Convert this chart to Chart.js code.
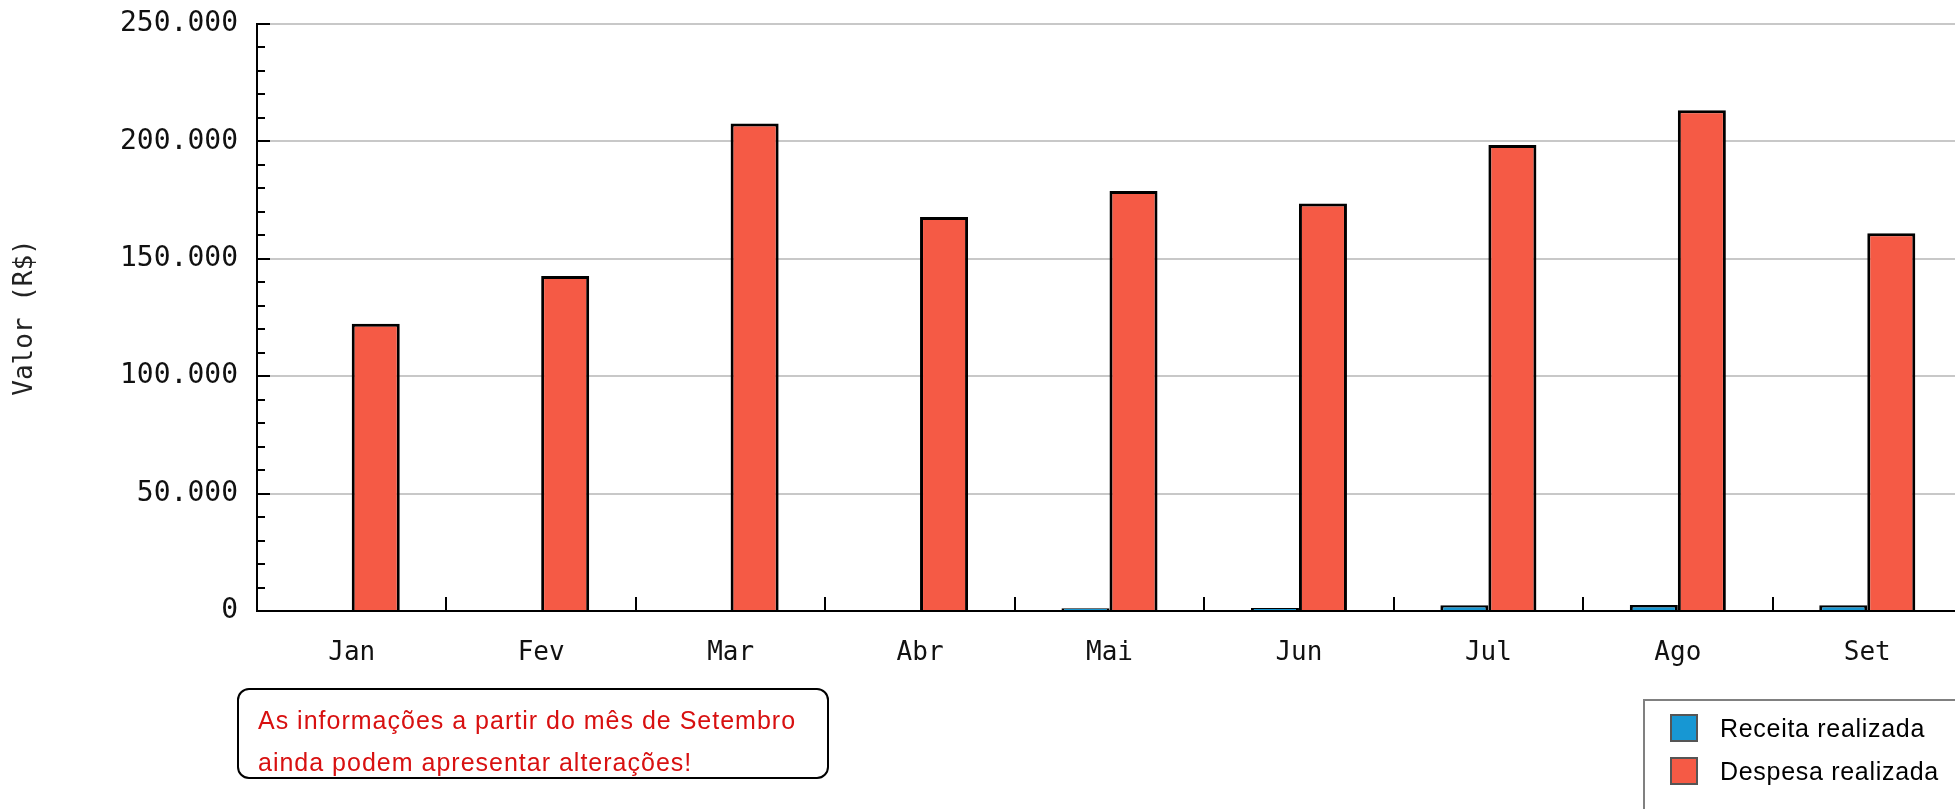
<!DOCTYPE html>
<html>
<head>
<meta charset="utf-8">
<script src="https://cdn.jsdelivr.net/npm/chart.js@4.4.0/dist/chart.umd.min.js"></script>
<style>
  html, body { margin: 0; padding: 0; background: #fff; overflow: hidden; }
  #wrap { position: relative; width: 1962px; height: 809px; }
  #nota {
    position: absolute; left: 237px; top: 688px; width: 592px; height: 91px;
    box-sizing: border-box; border: 2px solid #000; border-radius: 12px;
    padding: 9px 0 0 19px;
    font-family: "Liberation Sans", Arial, sans-serif; font-size: 25px;
    line-height: 42px; letter-spacing: 1px; color: #d81010; white-space: nowrap;
  }
  #legenda {
    position: absolute; left: 1643px; top: 699px; width: 340px; height: 150px;
    box-sizing: border-box; border: 2px solid #808080; padding: 13px 0 0 25px;
    font-family: "Liberation Sans", Arial, sans-serif; font-size: 25px;
    letter-spacing: 0.7px; color: #000;
  }
  #legenda .item { display: flex; align-items: center; height: 28px; margin-bottom: 15px; white-space: nowrap; }
  #legenda .cor { width: 28px; height: 28px; box-sizing: border-box; border: 2px solid #555; margin-right: 22px; }
</style>
</head>
<body>
<div id="wrap">
  <canvas id="grafico"></canvas>
  <div id="nota">As informações a partir do mês de Setembro<br>ainda podem apresentar alterações!</div>
  <div id="legenda"></div>
</div>
<script>
const meses = ["Jan", "Fev", "Mar", "Abr", "Mai", "Jun", "Jul", "Ago", "Set"];
const receitaRealizada = [0, 0, 0, 0, 1200, 1300, 2500, 2600, 2500];
const despesaRealizada = [122300, 142700, 207600, 167800, 178900, 173600, 198500, 213300, 160900];
const yTickLabels = ["0", "50.000", "100.000", "150.000", "200.000", "250.000"];

const fonteMono = { family: "'DejaVu Sans Mono', monospace", size: 26 };

// tick marks pointing into the plot, like the original
const marcasInternas = {
  id: "marcasInternas",
  afterDatasetsDraw(chart) {
    const { ctx, chartArea, scales: { x, y } } = chart;
    ctx.save();
    ctx.strokeStyle = "#000";
    ctx.lineWidth = 2;
    ctx.beginPath();
    y.ticks.forEach((t) => {
      const py = Math.round(y.getPixelForValue(t.value));
      const len = t.value % 50000 === 0 ? 13 : 8;
      ctx.moveTo(chartArea.left, py);
      ctx.lineTo(chartArea.left + len, py);
    });
    const half = (x.getPixelForValue(1) - x.getPixelForValue(0)) / 2;
    for (let i = 0; i < meses.length; i++) {
      const px = Math.round(x.getPixelForValue(i) + half);
      ctx.moveTo(px, chartArea.bottom);
      ctx.lineTo(px, chartArea.bottom - 14);
    }
    ctx.stroke();
    ctx.restore();
  },
};

const grafico = new Chart(document.getElementById("grafico"), {
  type: "bar",
  data: {
    labels: meses,
    datasets: [
      {
        label: "Receita realizada",
        data: receitaRealizada,
        backgroundColor: "#1797D3",
        borderColor: "#000",
        borderWidth: 3,
        borderSkipped: "start",
      },
      {
        label: "Despesa realizada",
        data: despesaRealizada,
        backgroundColor: "#F55A45",
        borderColor: "#000",
        borderWidth: 3,
        borderSkipped: "start",
      },
    ],
  },
  options: {
    responsive: true,
    maintainAspectRatio: false,
    animation: false,
    datasets: { bar: { categoryPercentage: 0.507, barPercentage: 1 } },
    layout: { padding: { top: 24, right: 0, bottom: 0, left: 0 } },
    plugins: {
      legend: { display: false },
      tooltip: { enabled: false },
    },
    scales: {
      x: {
        grid: { drawOnChartArea: false, drawTicks: false },
        border: { display: true, color: "#000", width: 2 },
        ticks: { font: fonteMono, color: "#111", padding: 27, maxRotation: 0 },
        afterFit: (s) => { s.height = 198; },
      },
      y: {
        min: 0,
        max: 250000,
        grid: {
          drawTicks: false,
          lineWidth: 2,
          color: (c) => (c.tick && c.tick.value % 50000 === 0 ? "#c8c8c8" : "rgba(0,0,0,0)"),
        },
        border: { display: true, color: "#000", width: 2 },
        ticks: {
          stepSize: 10000,
          autoSkip: false,
          font: { family: "'DejaVu Sans Mono', monospace", size: 28 },
          color: "#111",
          padding: 19,
          callback: (v) => (v % 50000 === 0 ? yTickLabels[v / 50000] : ""),
        },
        title: {
          display: true,
          text: "Valor (R$)",
          font: fonteMono,
          color: "#222",
          padding: { top: 10, bottom: 0 },
        },
        afterFit: (s) => {
          s.width = 257;
          s.paddingTop = 0;
          s.paddingBottom = 0;
        },
      },
    },
  },
  plugins: [marcasInternas],
});

// legend box built from the datasets
const legenda = document.getElementById("legenda");
grafico.data.datasets.forEach((ds) => {
  const item = document.createElement("div");
  item.className = "item";
  item.innerHTML = `<span class="cor" style="background:${ds.backgroundColor}"></span>${ds.label}`;
  legenda.appendChild(item);
});
</script>
</body>
</html>
